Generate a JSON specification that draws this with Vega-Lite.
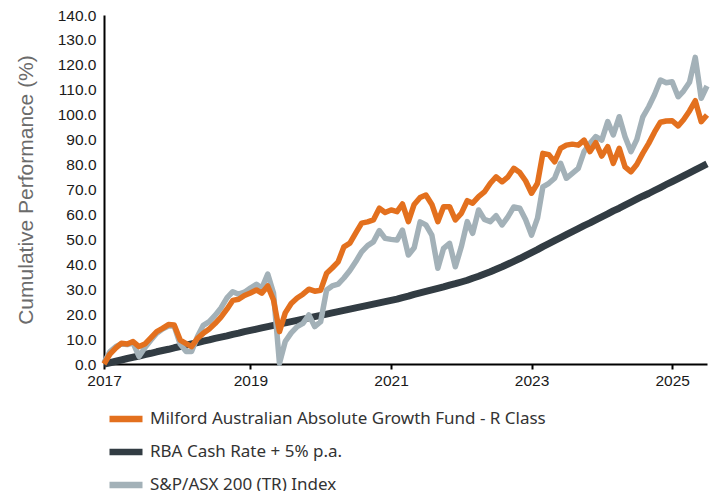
{
  "$schema": "https://vega.github.io/schema/vega-lite/v6.json",
  "width": 603,
  "height": 349,
  "autosize": {"type": "none"},
  "padding": {"left": 104, "top": 15, "right": 8, "bottom": 127},
  "background": "white",
  "config": {
    "view": {"stroke": null},
    "font": "Liberation Sans",
    "axis": {
      "grid": false,
      "labelOverlap": false,
      "labelFlush": false,
      "domainColor": "#000000",
      "domainWidth": 2,
      "labelFont": "Liberation Sans",
      "labelFontSize": 15.5,
      "labelColor": "#1a1a1a"
    },
    "axisX": {"tickColor": "#000000", "tickWidth": 2, "tickSize": 5, "labelPadding": 4},
    "axisY": {"ticks": false, "tickSize": 0, "labelPadding": 8, "tickCount": 15}
  },
  "data": {"values": [
    {"d":"2016-12-01","f":0,"r":0,"a":0.5},
    {"d":"2017-01-01","f":4,"r":0.5,"a":5.0},
    {"d":"2017-02-01","f":6.5,"r":1.1,"a":7.0},
    {"d":"2017-03-01","f":8.3,"r":1.6,"a":8.0},
    {"d":"2017-04-01","f":8.0,"r":2.2,"a":7.8},
    {"d":"2017-05-01","f":9.0,"r":2.7,"a":8.5},
    {"d":"2017-06-01","f":7.0,"r":3.2,"a":3.0},
    {"d":"2017-07-01","f":8.0,"r":3.8,"a":6.5},
    {"d":"2017-08-01","f":10.5,"r":4.3,"a":9.5},
    {"d":"2017-09-01","f":13.0,"r":4.9,"a":12.3},
    {"d":"2017-10-01","f":14.3,"r":5.4,"a":14.0},
    {"d":"2017-11-01","f":15.8,"r":5.9,"a":15.2},
    {"d":"2017-12-01","f":15.6,"r":6.5,"a":15.2},
    {"d":"2018-01-01","f":9.6,"r":7.0,"a":8.0},
    {"d":"2018-02-01","f":8.2,"r":7.6,"a":5.0},
    {"d":"2018-03-01","f":7.0,"r":8.1,"a":5.0},
    {"d":"2018-04-01","f":10.3,"r":8.6,"a":11.0},
    {"d":"2018-05-01","f":12.3,"r":9.2,"a":15.5},
    {"d":"2018-06-01","f":14.0,"r":9.7,"a":17.0},
    {"d":"2018-07-01","f":16.2,"r":10.3,"a":19.5},
    {"d":"2018-08-01","f":18.8,"r":10.8,"a":22.5},
    {"d":"2018-09-01","f":22.0,"r":11.3,"a":26.5},
    {"d":"2018-10-01","f":25.5,"r":11.9,"a":29.0},
    {"d":"2018-11-01","f":26.0,"r":12.4,"a":28.0},
    {"d":"2018-12-01","f":27.5,"r":13.0,"a":28.8},
    {"d":"2019-01-01","f":28.5,"r":13.5,"a":30.5},
    {"d":"2019-02-01","f":29.7,"r":14.0,"a":32.0},
    {"d":"2019-03-01","f":28.4,"r":14.5,"a":30.4},
    {"d":"2019-04-01","f":31.3,"r":15.0,"a":36.1},
    {"d":"2019-05-01","f":25.7,"r":15.5,"a":28.5},
    {"d":"2019-06-01","f":13.0,"r":16.0,"a":0.3},
    {"d":"2019-07-01","f":20.5,"r":16.5,"a":9.0},
    {"d":"2019-08-01","f":24.3,"r":17.0,"a":12.5},
    {"d":"2019-09-01","f":26.5,"r":17.5,"a":15.0},
    {"d":"2019-10-01","f":28.0,"r":18.0,"a":16.3},
    {"d":"2019-11-01","f":30.0,"r":18.5,"a":19.7},
    {"d":"2019-12-01","f":29.2,"r":19.0,"a":15.0},
    {"d":"2020-01-01","f":29.6,"r":19.5,"a":17.0},
    {"d":"2020-02-01","f":36.4,"r":20.0,"a":29.7},
    {"d":"2020-03-01","f":38.5,"r":20.5,"a":31.3},
    {"d":"2020-04-01","f":41.0,"r":21.0,"a":32.0},
    {"d":"2020-05-01","f":47.0,"r":21.5,"a":34.5},
    {"d":"2020-06-01","f":48.5,"r":22.0,"a":37.5},
    {"d":"2020-07-01","f":52.5,"r":22.5,"a":41.0},
    {"d":"2020-08-01","f":56.5,"r":23.0,"a":45.0},
    {"d":"2020-09-01","f":57.0,"r":23.5,"a":47.5},
    {"d":"2020-10-01","f":57.8,"r":24.0,"a":49.0},
    {"d":"2020-11-01","f":62.5,"r":24.5,"a":53.5},
    {"d":"2020-12-01","f":60.8,"r":25.0,"a":50.4},
    {"d":"2021-01-01","f":61.8,"r":25.5,"a":50.0},
    {"d":"2021-02-01","f":61.1,"r":26.0,"a":49.7},
    {"d":"2021-03-01","f":64.2,"r":26.6,"a":53.7},
    {"d":"2021-04-01","f":57.1,"r":27.2,"a":43.7},
    {"d":"2021-05-01","f":64.0,"r":27.9,"a":46.6},
    {"d":"2021-06-01","f":66.8,"r":28.5,"a":57.0},
    {"d":"2021-07-01","f":67.8,"r":29.1,"a":55.8},
    {"d":"2021-08-01","f":64.0,"r":29.7,"a":51.7},
    {"d":"2021-09-01","f":57.1,"r":30.3,"a":38.4},
    {"d":"2021-10-01","f":63.1,"r":30.9,"a":46.4},
    {"d":"2021-11-01","f":63.1,"r":31.6,"a":48.4},
    {"d":"2021-12-01","f":57.8,"r":32.2,"a":39.0},
    {"d":"2022-01-01","f":60.4,"r":32.9,"a":47.0},
    {"d":"2022-02-01","f":65.5,"r":33.6,"a":57.1},
    {"d":"2022-03-01","f":64.5,"r":34.4,"a":52.4},
    {"d":"2022-04-01","f":67.1,"r":35.2,"a":61.8},
    {"d":"2022-05-01","f":69.0,"r":36.1,"a":58.0},
    {"d":"2022-06-01","f":72.5,"r":37.0,"a":57.1},
    {"d":"2022-07-01","f":75.1,"r":38.0,"a":59.5},
    {"d":"2022-08-01","f":73.1,"r":39.0,"a":55.8},
    {"d":"2022-09-01","f":75.1,"r":40.1,"a":59.1},
    {"d":"2022-10-01","f":78.5,"r":41.2,"a":63.0},
    {"d":"2022-11-01","f":76.8,"r":42.3,"a":62.5},
    {"d":"2022-12-01","f":73.5,"r":43.5,"a":58.0},
    {"d":"2023-01-01","f":68.5,"r":44.7,"a":51.7},
    {"d":"2023-02-01","f":72.5,"r":45.9,"a":58.5},
    {"d":"2023-03-01","f":84.5,"r":47.1,"a":71.1},
    {"d":"2023-04-01","f":84.0,"r":48.3,"a":72.5},
    {"d":"2023-05-01","f":81.1,"r":49.5,"a":74.5},
    {"d":"2023-06-01","f":86.5,"r":50.7,"a":80.5},
    {"d":"2023-07-01","f":87.8,"r":51.9,"a":74.5},
    {"d":"2023-08-01","f":88.2,"r":53.1,"a":76.5},
    {"d":"2023-09-01","f":87.8,"r":54.3,"a":78.5},
    {"d":"2023-10-01","f":89.8,"r":55.5,"a":85.2},
    {"d":"2023-11-01","f":85.2,"r":56.6,"a":88.5},
    {"d":"2023-12-01","f":88.8,"r":57.8,"a":91.2},
    {"d":"2024-01-01","f":83.4,"r":59.0,"a":89.8},
    {"d":"2024-02-01","f":87.2,"r":60.2,"a":97.2},
    {"d":"2024-03-01","f":80.5,"r":61.4,"a":91.9},
    {"d":"2024-04-01","f":86.5,"r":62.5,"a":99.2},
    {"d":"2024-05-01","f":79.1,"r":63.7,"a":91.2},
    {"d":"2024-06-01","f":77.1,"r":64.9,"a":85.2},
    {"d":"2024-07-01","f":80.0,"r":66.1,"a":90.0},
    {"d":"2024-08-01","f":84.5,"r":67.3,"a":99.0},
    {"d":"2024-09-01","f":88.5,"r":68.4,"a":103.2},
    {"d":"2024-10-01","f":93.0,"r":69.6,"a":108.0},
    {"d":"2024-11-01","f":97.0,"r":70.8,"a":113.9},
    {"d":"2024-12-01","f":97.5,"r":72.0,"a":112.8},
    {"d":"2025-01-01","f":97.6,"r":73.2,"a":113.2},
    {"d":"2025-02-01","f":95.5,"r":74.4,"a":107.2},
    {"d":"2025-03-01","f":98.0,"r":75.5,"a":109.5},
    {"d":"2025-04-01","f":101.5,"r":76.7,"a":113.0},
    {"d":"2025-05-01","f":105.6,"r":77.9,"a":123.0},
    {"d":"2025-06-01","f":97.2,"r":79.1,"a":106.6},
    {"d":"2025-07-01","f":99.9,"r":80.3,"a":111.5}
  ]},
  "encoding": {
    "x": {
      "field": "d",
      "type": "temporal",
      "scale": {"type": "utc", "nice": false, "domain": [
        {"year": 2016, "month": 12, "date": 1, "utc": true},
        {"year": 2025, "month": 7, "date": 1, "utc": true}
      ]},
      "axis": {
        "title": null,
        "values": [
          {"year": 2016, "month": 12, "date": 1, "utc": true},
          {"year": 2019, "month": 1, "date": 1, "utc": true},
          {"year": 2021, "month": 1, "date": 1, "utc": true},
          {"year": 2023, "month": 1, "date": 1, "utc": true},
          {"year": 2025, "month": 1, "date": 1, "utc": true}
        ],
        "labelExpr": "utcyear(datum.value) < 2017 ? '2017' : utcFormat(datum.value, '%Y')"
      }
    }
  },
  "layer": [
    {
      "mark": {"type": "line", "strokeWidth": 7, "strokeJoin": "round"},
      "encoding": {
        "y": {
          "field": "r",
          "type": "quantitative",
          "scale": {"domain": [0, 140], "nice": false, "zero": true},
          "axis": {
            "title": "Cumulative Performance (%)",
            "values": [0, 10, 20, 30, 40, 50, 60, 70, 80, 90, 100, 110, 120, 130, 140],
            "format": ".1f",
            "titleFont": "Liberation Sans",
            "titleFontSize": 21,
            "titleFontWeight": "normal",
            "titleColor": "#6b6b6b",
            "titleAngle": -90,
            "titleAlign": "center",
            "titleBaseline": "middle",
            "titleX": -78,
            "titleY": 174.5
          }
        },
        "color": {
          "datum": "RBA Cash Rate + 5% p.a.",
          "scale": {
            "domain": ["Milford Australian Absolute Growth Fund - R Class", "RBA Cash Rate + 5% p.a.", "S&P/ASX 200 (TR) Index"],
            "range": ["#E3701E", "#323C43", "#A3B1B8"]
          },
          "legend": {
            "title": null,
            "orient": "none",
            "legendX": 2,
            "legendY": 384,
            "direction": "vertical",
            "padding": 0,
            "symbolType": "stroke",
            "symbolSize": 1089,
            "symbolStrokeWidth": 6.3,
            "labelFont": "Noto Sans",
            "labelFontSize": 17,
            "labelColor": "#333333",
            "labelOffset": 4,
            "labelLimit": 0,
            "rowPadding": -1
          }
        }
      }
    },
    {
      "mark": {"type": "line", "strokeWidth": 5.5, "strokeJoin": "round"},
      "encoding": {
        "y": {
          "field": "a",
          "type": "quantitative",
          "axis": {
            "title": "Cumulative Performance (%)",
            "values": [0, 10, 20, 30, 40, 50, 60, 70, 80, 90, 100, 110, 120, 130, 140],
            "format": ".1f"
          }
        },
        "color": {"datum": "S&P/ASX 200 (TR) Index"}
      }
    },
    {
      "mark": {"type": "line", "strokeWidth": 5.5, "strokeJoin": "round"},
      "encoding": {
        "y": {
          "field": "f",
          "type": "quantitative",
          "axis": {
            "title": "Cumulative Performance (%)",
            "values": [0, 10, 20, 30, 40, 50, 60, 70, 80, 90, 100, 110, 120, 130, 140],
            "format": ".1f"
          }
        },
        "color": {"datum": "Milford Australian Absolute Growth Fund - R Class"}
      }
    }
  ]
}
